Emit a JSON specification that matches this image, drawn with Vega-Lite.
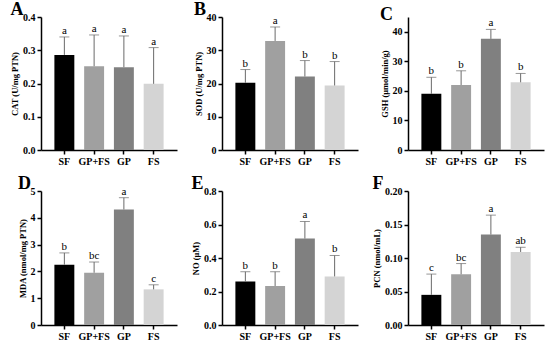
{
  "$schema": "https://vega.github.io/schema/vega-lite/v6.json",
  "background": "white",
  "padding": {"left": 10, "top": 1, "right": 2, "bottom": 1},
  "datasets": {
    "d": [
      {"m": "CAT", "g": "SF", "v": 0.286, "u": 0.340, "l": "a"},
      {"m": "CAT", "g": "GP+FS", "v": 0.252, "u": 0.346, "l": "a"},
      {"m": "CAT", "g": "GP", "v": 0.249, "u": 0.343, "l": "a"},
      {"m": "CAT", "g": "FS", "v": 0.199, "u": 0.308, "l": "a"},
      {"m": "SOD", "g": "SF", "v": 20.2, "u": 24.2, "l": "b"},
      {"m": "SOD", "g": "GP+FS", "v": 32.8, "u": 37.0, "l": "a"},
      {"m": "SOD", "g": "GP", "v": 22.1, "u": 26.9, "l": "b"},
      {"m": "SOD", "g": "FS", "v": 19.4, "u": 26.6, "l": "b"},
      {"m": "GSH", "g": "SF", "v": 19.0, "u": 24.6, "l": "b"},
      {"m": "GSH", "g": "GP+FS", "v": 22.0, "u": 26.8, "l": "b"},
      {"m": "GSH", "g": "GP", "v": 37.6, "u": 40.8, "l": "a"},
      {"m": "GSH", "g": "FS", "v": 22.9, "u": 25.9, "l": "b"},
      {"m": "MDA", "g": "SF", "v": 2.25, "u": 2.69, "l": "b"},
      {"m": "MDA", "g": "GP+FS", "v": 1.95, "u": 2.35, "l": "bc"},
      {"m": "MDA", "g": "GP", "v": 4.31, "u": 4.75, "l": "a"},
      {"m": "MDA", "g": "FS", "v": 1.33, "u": 1.50, "l": "c"},
      {"m": "NO", "g": "SF", "v": 0.259, "u": 0.318, "l": "b"},
      {"m": "NO", "g": "GP+FS", "v": 0.233, "u": 0.318, "l": "b"},
      {"m": "NO", "g": "GP", "v": 0.516, "u": 0.618, "l": "a"},
      {"m": "NO", "g": "FS", "v": 0.290, "u": 0.415, "l": "b"},
      {"m": "PCN", "g": "SF", "v": 0.045, "u": 0.076, "l": "c"},
      {"m": "PCN", "g": "GP+FS", "v": 0.0757, "u": 0.0917, "l": "bc"},
      {"m": "PCN", "g": "GP", "v": 0.135, "u": 0.164, "l": "a"},
      {"m": "PCN", "g": "FS", "v": 0.109, "u": 0.116, "l": "ab"}
    ]
  },
  "data": {"name": "d"},
  "columns": 3,
  "spacing": {"row": 8, "column": 14},
  "concat": [
    {
      "title": "A",
      "width": 136, "height": 133,
      "transform": [{"filter": "datum.m == 'CAT'"}],
      "encoding": {
        "x": {"field": "g", "type": "nominal", "sort": ["SF", "GP+FS", "GP", "FS"], "title": null, "scale": {"paddingInner": 0.33, "paddingOuter": 0.45}, "axis": {"labelAngle": 0}},
        "y": {"field": "v", "type": "quantitative", "scale": {"domain": [0, 0.4]}, "title": "CAT (U/mg PTN)", "axis": {"values": [0, 0.1, 0.2, 0.3, 0.4], "format": ".1f"}}
      },
      "layer": [
        {"mark": {"type": "bar"}, "encoding": {"color": {"field": "g", "type": "nominal", "scale": {"domain": ["SF", "GP+FS", "GP", "FS"], "range": ["#000000", "#a0a0a0", "#808080", "#d4d4d4"]}, "legend": null}}},
        {"mark": {"type": "rule", "color": "#6a6a6a", "strokeWidth": 1}, "encoding": {"y2": {"field": "u"}}},
        {"mark": {"type": "tick", "color": "#6a6a6a", "size": 10, "thickness": 1}, "encoding": {"y": {"field": "u", "type": "quantitative", "scale": {"domain": [0, 0.4]}, "title": "CAT (U/mg PTN)", "axis": {"values": [0, 0.1, 0.2, 0.3, 0.4], "format": ".1f"}}}},
        {"mark": {"type": "text", "baseline": "bottom", "dy": -1, "fontSize": 11, "font": "Liberation Serif"}, "encoding": {"y": {"field": "u", "type": "quantitative", "scale": {"domain": [0, 0.4]}, "title": "CAT (U/mg PTN)", "axis": {"values": [0, 0.1, 0.2, 0.3, 0.4], "format": ".1f"}}, "text": {"field": "l"}}}
      ]
    },
    {
      "title": "B",
      "width": 136, "height": 133,
      "transform": [{"filter": "datum.m == 'SOD'"}],
      "encoding": {
        "x": {"field": "g", "type": "nominal", "sort": ["SF", "GP+FS", "GP", "FS"], "title": null, "scale": {"paddingInner": 0.33, "paddingOuter": 0.45}, "axis": {"labelAngle": 0}},
        "y": {"field": "v", "type": "quantitative", "scale": {"domain": [0, 40]}, "title": "SOD (U/mg PTN)", "axis": {"values": [0, 10, 20, 30, 40]}}
      },
      "layer": [
        {"mark": {"type": "bar"}, "encoding": {"color": {"field": "g", "type": "nominal", "scale": {"domain": ["SF", "GP+FS", "GP", "FS"], "range": ["#000000", "#a0a0a0", "#808080", "#d4d4d4"]}, "legend": null}}},
        {"mark": {"type": "rule", "color": "#6a6a6a", "strokeWidth": 1}, "encoding": {"y2": {"field": "u"}}},
        {"mark": {"type": "tick", "color": "#6a6a6a", "size": 10, "thickness": 1}, "encoding": {"y": {"field": "u", "type": "quantitative", "scale": {"domain": [0, 40]}, "title": "SOD (U/mg PTN)", "axis": {"values": [0, 10, 20, 30, 40]}}}},
        {"mark": {"type": "text", "baseline": "bottom", "dy": -1, "fontSize": 11, "font": "Liberation Serif"}, "encoding": {"y": {"field": "u", "type": "quantitative", "scale": {"domain": [0, 40]}, "title": "SOD (U/mg PTN)", "axis": {"values": [0, 10, 20, 30, 40]}}, "text": {"field": "l"}}}
      ]
    },
    {
      "title": "C",
      "width": 136, "height": 133,
      "transform": [{"filter": "datum.m == 'GSH'"}],
      "encoding": {
        "x": {"field": "g", "type": "nominal", "sort": ["SF", "GP+FS", "GP", "FS"], "title": null, "scale": {"paddingInner": 0.33, "paddingOuter": 0.45}, "axis": {"labelAngle": 0}},
        "y": {"field": "v", "type": "quantitative", "scale": {"domain": [0, 45]}, "title": "GSH (μmol/min/g)", "axis": {"values": [0, 10, 20, 30, 40]}}
      },
      "layer": [
        {"mark": {"type": "bar"}, "encoding": {"color": {"field": "g", "type": "nominal", "scale": {"domain": ["SF", "GP+FS", "GP", "FS"], "range": ["#000000", "#a0a0a0", "#808080", "#d4d4d4"]}, "legend": null}}},
        {"mark": {"type": "rule", "color": "#6a6a6a", "strokeWidth": 1}, "encoding": {"y2": {"field": "u"}}},
        {"mark": {"type": "tick", "color": "#6a6a6a", "size": 10, "thickness": 1}, "encoding": {"y": {"field": "u", "type": "quantitative", "scale": {"domain": [0, 45]}, "title": "GSH (μmol/min/g)", "axis": {"values": [0, 10, 20, 30, 40]}}}},
        {"mark": {"type": "text", "baseline": "bottom", "dy": -1, "fontSize": 11, "font": "Liberation Serif"}, "encoding": {"y": {"field": "u", "type": "quantitative", "scale": {"domain": [0, 45]}, "title": "GSH (μmol/min/g)", "axis": {"values": [0, 10, 20, 30, 40]}}, "text": {"field": "l"}}}
      ]
    },
    {
      "title": "D",
      "width": 136, "height": 134,
      "transform": [{"filter": "datum.m == 'MDA'"}],
      "encoding": {
        "x": {"field": "g", "type": "nominal", "sort": ["SF", "GP+FS", "GP", "FS"], "title": null, "scale": {"paddingInner": 0.33, "paddingOuter": 0.45}, "axis": {"labelAngle": 0}},
        "y": {"field": "v", "type": "quantitative", "scale": {"domain": [0, 5]}, "title": "MDA (nmol/mg PTN)", "axis": {"values": [0, 1, 2, 3, 4, 5]}}
      },
      "layer": [
        {"mark": {"type": "bar"}, "encoding": {"color": {"field": "g", "type": "nominal", "scale": {"domain": ["SF", "GP+FS", "GP", "FS"], "range": ["#000000", "#a0a0a0", "#808080", "#d4d4d4"]}, "legend": null}}},
        {"mark": {"type": "rule", "color": "#6a6a6a", "strokeWidth": 1}, "encoding": {"y2": {"field": "u"}}},
        {"mark": {"type": "tick", "color": "#6a6a6a", "size": 10, "thickness": 1}, "encoding": {"y": {"field": "u", "type": "quantitative", "scale": {"domain": [0, 5]}, "title": "MDA (nmol/mg PTN)", "axis": {"values": [0, 1, 2, 3, 4, 5]}}}},
        {"mark": {"type": "text", "baseline": "bottom", "dy": -1, "fontSize": 11, "font": "Liberation Serif"}, "encoding": {"y": {"field": "u", "type": "quantitative", "scale": {"domain": [0, 5]}, "title": "MDA (nmol/mg PTN)", "axis": {"values": [0, 1, 2, 3, 4, 5]}}, "text": {"field": "l"}}}
      ]
    },
    {
      "title": "E",
      "width": 136, "height": 134,
      "transform": [{"filter": "datum.m == 'NO'"}],
      "encoding": {
        "x": {"field": "g", "type": "nominal", "sort": ["SF", "GP+FS", "GP", "FS"], "title": null, "scale": {"paddingInner": 0.33, "paddingOuter": 0.45}, "axis": {"labelAngle": 0}},
        "y": {"field": "v", "type": "quantitative", "scale": {"domain": [0, 0.8]}, "title": "NO (μM)", "axis": {"values": [0, 0.2, 0.4, 0.6, 0.8], "format": ".1f"}}
      },
      "layer": [
        {"mark": {"type": "bar"}, "encoding": {"color": {"field": "g", "type": "nominal", "scale": {"domain": ["SF", "GP+FS", "GP", "FS"], "range": ["#000000", "#a0a0a0", "#808080", "#d4d4d4"]}, "legend": null}}},
        {"mark": {"type": "rule", "color": "#6a6a6a", "strokeWidth": 1}, "encoding": {"y2": {"field": "u"}}},
        {"mark": {"type": "tick", "color": "#6a6a6a", "size": 10, "thickness": 1}, "encoding": {"y": {"field": "u", "type": "quantitative", "scale": {"domain": [0, 0.8]}, "title": "NO (μM)", "axis": {"values": [0, 0.2, 0.4, 0.6, 0.8], "format": ".1f"}}}},
        {"mark": {"type": "text", "baseline": "bottom", "dy": -1, "fontSize": 11, "font": "Liberation Serif"}, "encoding": {"y": {"field": "u", "type": "quantitative", "scale": {"domain": [0, 0.8]}, "title": "NO (μM)", "axis": {"values": [0, 0.2, 0.4, 0.6, 0.8], "format": ".1f"}}, "text": {"field": "l"}}}
      ]
    },
    {
      "title": "F",
      "width": 136, "height": 134,
      "transform": [{"filter": "datum.m == 'PCN'"}],
      "encoding": {
        "x": {"field": "g", "type": "nominal", "sort": ["SF", "GP+FS", "GP", "FS"], "title": null, "scale": {"paddingInner": 0.33, "paddingOuter": 0.45}, "axis": {"labelAngle": 0}},
        "y": {"field": "v", "type": "quantitative", "scale": {"domain": [0, 0.2]}, "title": "PCN (nmol/mL)", "axis": {"values": [0, 0.05, 0.1, 0.15, 0.2], "format": ".2f"}}
      },
      "layer": [
        {"mark": {"type": "bar"}, "encoding": {"color": {"field": "g", "type": "nominal", "scale": {"domain": ["SF", "GP+FS", "GP", "FS"], "range": ["#000000", "#a0a0a0", "#808080", "#d4d4d4"]}, "legend": null}}},
        {"mark": {"type": "rule", "color": "#6a6a6a", "strokeWidth": 1}, "encoding": {"y2": {"field": "u"}}},
        {"mark": {"type": "tick", "color": "#6a6a6a", "size": 10, "thickness": 1}, "encoding": {"y": {"field": "u", "type": "quantitative", "scale": {"domain": [0, 0.2]}, "title": "PCN (nmol/mL)", "axis": {"values": [0, 0.05, 0.1, 0.15, 0.2], "format": ".2f"}}}},
        {"mark": {"type": "text", "baseline": "bottom", "dy": -1, "fontSize": 11, "font": "Liberation Serif"}, "encoding": {"y": {"field": "u", "type": "quantitative", "scale": {"domain": [0, 0.2]}, "title": "PCN (nmol/mL)", "axis": {"values": [0, 0.05, 0.1, 0.15, 0.2], "format": ".2f"}}, "text": {"field": "l"}}}
      ]
    }
  ],
  "config": {
    "view": {"stroke": null},
    "font": "Liberation Serif",
    "title": {"anchor": "start", "frame": "bounds", "fontSize": 18, "fontWeight": "bold", "font": "Liberation Serif", "offset": -7, "color": "#000"},
    "axis": {
      "grid": false,
      "domainColor": "#000", "domainWidth": 1.5,
      "tickColor": "#000", "tickWidth": 1.5, "tickSize": 4,
      "labelFont": "Liberation Serif", "labelFontWeight": "bold", "labelFontSize": 10, "labelColor": "#000",
      "titleFont": "Liberation Serif", "titleFontWeight": "bold", "titleFontSize": 8.5, "titleColor": "#000", "titlePadding": 3
    },
    "axisX": {"labelPadding": 2},
    "axisY": {"labelPadding": 2}
  }
}
